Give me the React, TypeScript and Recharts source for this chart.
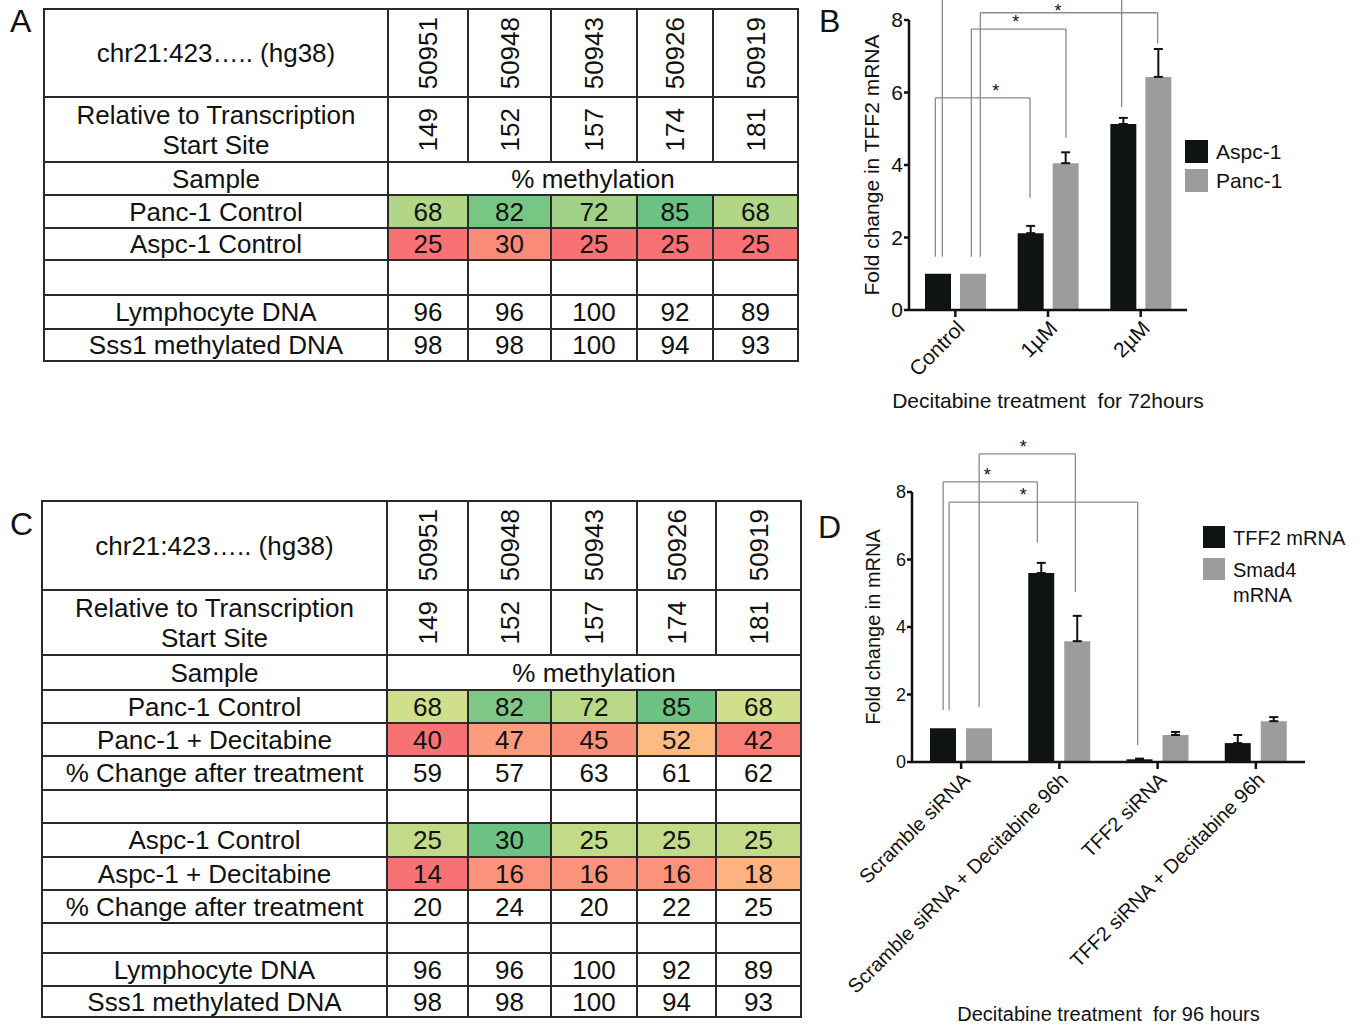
import { Bar, BarChart, ErrorBar, Legend, ReferenceLine, XAxis, YAxis } from 'recharts'

const FONT = '"Liberation Sans", Arial, Helvetica, sans-serif'
const INK = '#111'
const BRACKET = '#8a8a8a'

// tables A / C
const cpgSites = ['50951', '50948', '50943', '50926', '50919']
const tssOffsets = ['149', '152', '157', '174', '181']

const pancControl = [68, 82, 72, 85, 68]
const aspcControl = [25, 30, 25, 25, 25]
const pancDecitabine = [40, 47, 45, 52, 42]
const pancChange = [59, 57, 63, 61, 62]
const aspcDecitabine = [14, 16, 16, 16, 18]
const aspcChange = [20, 24, 20, 22, 25]
const lymphocyteDna = [96, 96, 100, 92, 89]
const sss1Dna = [98, 98, 100, 94, 93]

// chart B
const doses = ['Control', '1µM', '2µM']
const aspcFold = [1, 2.12, 5.13]
const aspcSem = [0, 0.2, 0.17]
const pancFold = [1, 4.05, 6.43]
const pancSem = [0, 0.3, 0.77]

// chart D
const treatments = ['Scramble siRNA', 'Scramble siRNA + Decitabine 96h', 'TFF2 siRNA', 'TFF2 siRNA + Decitabine 96h']
const tff2Fold = [1, 5.6, 0.08, 0.56]
const tff2Sem = [0, 0.3, 0.02, 0.24]
const smad4Fold = [1, 3.58, 0.8, 1.21]
const smad4Sem = [0, 0.75, 0.09, 0.12]

const foldTicks = [0, 2, 4, 6, 8]

// significance brackets (legs nudged off the category centre in px)
const doseSig = [
  { from: 'Control', fromDx: -20, to: '1µM', toDx: -18, level: 5.85, fromBase: 1.47, toBase: 3.1, starDx: 13, starDy: 0, star: true },
  { from: 'Control', fromDx: 16, to: '1µM', toDx: 18, level: 7.75, fromBase: 1.47, toBase: 4.75, starDx: -3, starDy: 0, star: true },
  { from: 'Control', fromDx: 25, to: '2µM', toDx: 17, level: 8.2, fromBase: 1.47, toBase: 7.35, starDx: -11, starDy: 5, star: true },
  { from: 'Control', fromDx: -13, to: '2µM', toDx: -19, level: 9.3, fromBase: 1.47, toBase: 5.6, starDx: 0, starDy: 0, star: false },
]
const sirnaSig = [
  { from: treatments[0], fromDx: -18, to: treatments[1], toDx: -22, level: 8.3, fromBase: 1.54, toBase: 6.5, starDx: -3, starDy: 0, star: true },
  { from: treatments[0], fromDx: 18, to: treatments[1], toDx: 16, level: 9.13, fromBase: 1.63, toBase: 5.04, starDx: -4, starDy: 0, star: true },
  { from: treatments[0], fromDx: -12, to: treatments[2], toDx: -20, level: 7.7, fromBase: 1.54, toBase: 0.5, starDx: -20, starDy: 0, star: true },
]

const upOnly = (e: number) => (e ? [0, e] : null)

const doseData = doses.map((dose, i) => ({
  dose,
  aspc: aspcFold[i],
  aspcErr: upOnly(aspcSem[i]),
  panc: pancFold[i],
  pancErr: upOnly(pancSem[i]),
}))

const sirnaData = treatments.map((t, i) => ({
  t,
  tff2: tff2Fold[i],
  tff2Err: upOnly(tff2Sem[i]),
  smad4: smad4Fold[i],
  smad4Err: upOnly(smad4Sem[i]),
}))

// excel style red-yellow-green scale, midpoint at the 50th percentile
const RED = [248, 105, 107]
const YELLOW = [255, 235, 132]
const GREEN = [99, 190, 123]

function mix(a: number[], b: number[], t: number) {
  const c = a.map((v, i) => v + (b[i] - v) * t).map((v) => Math.round(v + (255 - v) * 0.06))
  return `rgb(${c.join(',')})`
}

function heatScale(values: number[]) {
  const s = [...values].sort((a, b) => a - b)
  const min = s[0]
  const max = s[s.length - 1]
  const pos = (s.length - 1) * 0.5
  const lo = Math.floor(pos)
  const mid = s[lo] + (s[Math.ceil(pos)] - s[lo]) * (pos - lo)
  return (v: number) => (v <= mid ? mix(RED, YELLOW, (v - min) / (mid - min)) : mix(YELLOW, GREEN, (v - mid) / (max - mid)))
}

type Row =
  | { type: 'sites' }
  | { type: 'tss' }
  | { type: 'sample' }
  | { type: 'blank' }
  | { type: 'values'; label: string; values: number[]; heat?: (v: number) => string }

const heatA = heatScale([...pancControl, ...aspcControl])
const heatPanc = heatScale([...pancControl, ...pancDecitabine])
const heatAspc = heatScale([...aspcControl, ...aspcDecitabine])

const rowsA: Row[] = [
  { type: 'sites' },
  { type: 'tss' },
  { type: 'sample' },
  { type: 'values', label: 'Panc-1 Control', values: pancControl, heat: heatA },
  { type: 'values', label: 'Aspc-1 Control', values: aspcControl, heat: heatA },
  { type: 'blank' },
  { type: 'values', label: 'Lymphocyte DNA', values: lymphocyteDna },
  { type: 'values', label: 'Sss1 methylated DNA', values: sss1Dna },
]

const rowsC: Row[] = [
  { type: 'sites' },
  { type: 'tss' },
  { type: 'sample' },
  { type: 'values', label: 'Panc-1 Control', values: pancControl, heat: heatPanc },
  { type: 'values', label: 'Panc-1 + Decitabine', values: pancDecitabine, heat: heatPanc },
  { type: 'values', label: '% Change after treatment', values: pancChange },
  { type: 'blank' },
  { type: 'values', label: 'Aspc-1 Control', values: aspcControl, heat: heatAspc },
  { type: 'values', label: 'Aspc-1 + Decitabine', values: aspcDecitabine, heat: heatAspc },
  { type: 'values', label: '% Change after treatment', values: aspcChange },
  { type: 'blank' },
  { type: 'values', label: 'Lymphocyte DNA', values: lymphocyteDna },
  { type: 'values', label: 'Sss1 methylated DNA', values: sss1Dna },
]

const cellBase: React.CSSProperties = {
  background: '#fff',
  display: 'flex',
  alignItems: 'center',
  justifyContent: 'center',
  textAlign: 'center',
  whiteSpace: 'nowrap',
  lineHeight: '30px',
}

function MethylTable({ rows, left, top, cols, heights }: { rows: Row[]; left: number; top: number; cols: number[]; heights: number[] }) {
  const cells: React.ReactNode[] = []
  rows.forEach((row, r) => {
    if (row.type === 'sites' || row.type === 'tss') {
      cells.push(
        <div key={`${r}l`} style={cellBase}>
          {row.type === 'sites' ? 'chr21:423….. (hg38)' : <span>Relative to Transcription<br />Start Site</span>}
        </div>,
      )
      const labels = row.type === 'sites' ? cpgSites : tssOffsets
      labels.forEach((t, c) =>
        cells.push(
          <div key={`${r}-${c}`} style={cellBase}>
            <span style={{ writingMode: 'vertical-rl', transform: 'rotate(180deg)', lineHeight: 1 }}>{t}</span>
          </div>,
        ),
      )
    } else if (row.type === 'sample') {
      cells.push(<div key={`${r}l`} style={cellBase}>Sample</div>)
      cells.push(<div key={`${r}m`} style={{ ...cellBase, gridColumn: 'span 5' }}>% methylation</div>)
    } else if (row.type === 'blank') {
      for (let c = 0; c < 6; c++) cells.push(<div key={`${r}-${c}`} style={cellBase} />)
    } else {
      cells.push(<div key={`${r}l`} style={cellBase}>{row.label}</div>)
      row.values.forEach((v, c) =>
        cells.push(
          <div key={`${r}-${c}`} style={{ ...cellBase, background: row.heat ? row.heat(v) : '#fff' }}>
            {v}
          </div>,
        ),
      )
    }
  })
  return (
    <div
      style={{
        position: 'absolute',
        left,
        top,
        display: 'grid',
        gridTemplateColumns: cols.map((w) => `${w}px`).join(' '),
        gridTemplateRows: heights.map((h) => `${h}px`).join(' '),
        gap: 2,
        padding: 2,
        background: '#2a2a2a',
        fontSize: 26,
        color: INK,
      }}
    >
      {cells}
    </div>
  )
}

type Sig = {
  from: string
  fromDx: number
  to: string
  toDx: number
  level: number
  fromBase: number
  toBase: number
  starDx: number
  starDy: number
  star: boolean
}

function leg(dx: number) {
  return (p: any) => <line x1={p.x1 + dx} y1={p.y1} x2={p.x2 + dx} y2={p.y2} stroke={BRACKET} strokeWidth={1.3} />
}

function span(b: Sig) {
  return (p: any) => {
    const x1 = p.x1 + b.fromDx
    const x2 = p.x2 + b.toDx
    return (
      <g>
        <line x1={x1} y1={p.y1} x2={x2} y2={p.y2} stroke={BRACKET} strokeWidth={1.3} />
        {b.star && (
          <text x={(x1 + x2) / 2 + b.starDx} y={p.y1 - 1 + b.starDy} textAnchor="middle" fontSize={18} fill={INK}>
            *
          </text>
        )}
      </g>
    )
  }
}

function brackets(list: Sig[], prefix: string) {
  return list.flatMap((b, i) => [
    <ReferenceLine key={`${prefix}${i}h`} ifOverflow="visible" segment={[{ x: b.from, y: b.level }, { x: b.to, y: b.level }]} shape={span(b)} />,
    <ReferenceLine key={`${prefix}${i}a`} ifOverflow="visible" segment={[{ x: b.from, y: b.fromBase }, { x: b.from, y: b.level }]} shape={leg(b.fromDx)} />,
    <ReferenceLine key={`${prefix}${i}b`} ifOverflow="visible" segment={[{ x: b.to, y: b.toBase }, { x: b.to, y: b.level }]} shape={leg(b.toDx)} />,
  ])
}

function SwatchLegend({ payload = [], order, size, pitchGap, fontSize, lineHeight, textWidth }: any) {
  const items = [...payload].sort((a: any, b: any) => order.indexOf(a.value) - order.indexOf(b.value))
  return (
    <div>
      {items.map((e: any) => (
        <div key={e.value} style={{ display: 'flex', alignItems: 'flex-start', marginBottom: pitchGap }}>
          <span style={{ width: size, height: size, background: e.color, flex: 'none' }} />
          <span style={{ marginLeft: 8, fontSize, lineHeight: `${lineHeight}px`, width: textWidth, color: INK, whiteSpace: 'normal' }}>{e.value}</span>
        </div>
      ))}
    </div>
  )
}

const axisStroke = { stroke: INK, strokeWidth: 2.5 }

function DoseChart() {
  return (
    <BarChart width={551} height={420} data={doseData} margin={{ top: 20, right: 174, bottom: 10, left: 25 }} barSize={26} barGap={9}>
      <XAxis
        dataKey="dose"
        height={100}
        interval={0}
        angle={-45}
        textAnchor="end"
        tickSize={7}
        tickMargin={2}
        tick={{ fontSize: 21, fill: INK, textAnchor: 'end' }}
        axisLine={axisStroke}
        tickLine={axisStroke}
        label={{ value: 'Decitabine treatment\u00a0 for 72hours', position: 'insideBottom', offset: 2, fontSize: 21, fill: INK }}
      />
      <YAxis
        width={74}
        domain={[0, 8]}
        ticks={foldTicks}
        tickSize={5}
        tickMargin={1}
        tick={{ fontSize: 21, fill: INK }}
        axisLine={axisStroke}
        tickLine={axisStroke}
        label={{ value: 'Fold change in TFF2 mRNA', angle: -90, position: 'center', fontSize: 21, fill: INK }}
      />
      {brackets(doseSig, 'b')}
      <Bar dataKey="aspc" name="Aspc-1" fill="#101410" isAnimationActive={false}>
        <ErrorBar dataKey="aspcErr" direction="y" width={4.5} stroke={INK} strokeWidth={2} isAnimationActive={false} />
      </Bar>
      <Bar dataKey="panc" name="Panc-1" fill="#9a9c9e" isAnimationActive={false}>
        <ErrorBar dataKey="pancErr" direction="y" width={4.5} stroke={INK} strokeWidth={2} isAnimationActive={false} />
      </Bar>
      <Legend
        layout="vertical"
        align="center"
        verticalAlign="middle"
        wrapperStyle={{ left: 375, top: 140, width: 170 }}
        content={(p: any) => (
          <SwatchLegend {...p} order={['Aspc-1', 'Panc-1']} size={23} pitchGap={6} fontSize={21} lineHeight={23} textWidth={130} />
        )}
      />
    </BarChart>
  )
}

function SirnaChart() {
  return (
    <BarChart width={541} height={597} data={sirnaData} margin={{ top: 62, right: 56, bottom: 5, left: 14 }} barSize={26} barGap={10}>
      <XAxis
        dataKey="t"
        height={260}
        interval={0}
        angle={-45}
        textAnchor="end"
        tickSize={7}
        tickMargin={2}
        tick={{ fontSize: 20, fill: INK, textAnchor: 'end' }}
        axisLine={axisStroke}
        tickLine={axisStroke}
        label={{ value: 'Decitabine treatment\u00a0 for 96 hours', position: 'insideBottom', offset: 1, fontSize: 20, fill: INK }}
      />
      <YAxis
        width={78}
        domain={[0, 8]}
        ticks={foldTicks}
        tickSize={5}
        tickMargin={1}
        tick={{ fontSize: 18, fill: INK }}
        axisLine={axisStroke}
        tickLine={axisStroke}
        label={{ value: 'Fold change in mRNA', angle: -90, position: 'center', fontSize: 20, fill: INK }}
      />
      {brackets(sirnaSig, 'd')}
      <Bar dataKey="tff2" name="TFF2 mRNA" fill="#101410" isAnimationActive={false}>
        <ErrorBar dataKey="tff2Err" direction="y" width={4.5} stroke={INK} strokeWidth={2} isAnimationActive={false} />
      </Bar>
      <Bar dataKey="smad4" name="Smad4 mRNA" fill="#9a9c9e" isAnimationActive={false}>
        <ErrorBar dataKey="smad4Err" direction="y" width={4.5} stroke={INK} strokeWidth={2} isAnimationActive={false} />
      </Bar>
      <Legend
        layout="vertical"
        align="center"
        verticalAlign="middle"
        wrapperStyle={{ left: 383, top: 96, width: 158 }}
        content={(p: any) => (
          <SwatchLegend {...p} order={['TFF2 mRNA', 'Smad4 mRNA']} size={22} pitchGap={7} fontSize={20} lineHeight={25} textWidth={118} />
        )}
      />
    </BarChart>
  )
}

const letter = (ch: string, left: number, top: number) => (
  <div style={{ position: 'absolute', left, top, fontSize: 32, lineHeight: '32px', color: INK }}>{ch}</div>
)

export default function App() {
  return (
    <div style={{ position: 'absolute', left: 0, top: 0, width: 1361, height: 1027, background: '#fff', fontFamily: FONT, overflow: 'hidden' }}>
      {letter('A', 10, 5)}
      {letter('B', 819, 5)}
      {letter('C', 10, 508)}
      {letter('D', 818, 511)}
      <MethylTable rows={rowsA} left={43} top={8} cols={[342, 78, 81, 84, 74, 83]} heights={[86, 63, 31, 31, 30, 33, 32, 30]} />
      <MethylTable
        rows={rowsC}
        left={41}
        top={500}
        cols={[343, 79, 81, 84, 77, 83]}
        heights={[87, 63, 33, 31, 31, 32, 31, 32, 31, 31, 28, 31, 29]}
      />
      <div style={{ position: 'absolute', left: 810, top: 0 }}>
        <DoseChart />
      </div>
      <div style={{ position: 'absolute', left: 820, top: 430 }}>
        <SirnaChart />
      </div>
    </div>
  )
}
